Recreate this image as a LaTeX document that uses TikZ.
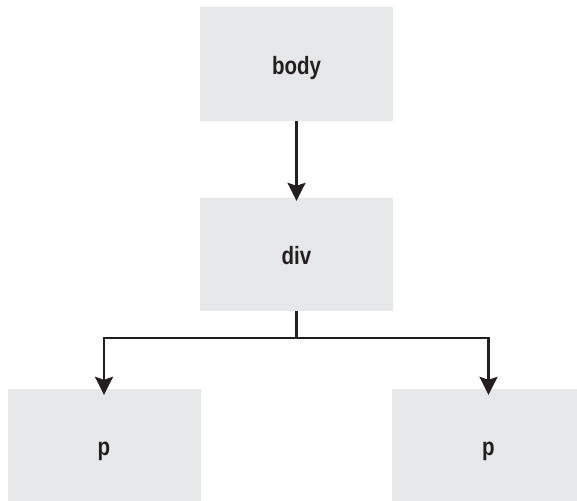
\documentclass[tikz,border=0pt]{standalone}
\usepackage{fontspec}
\setmainfont[FakeStretch=0.82]{Liberation Sans}
\usetikzlibrary{arrows.meta}
\definecolor{boxgray}{HTML}{E6E7E8}
\definecolor{ink}{HTML}{231F20}
\begin{document}
\begin{tikzpicture}[x=1pt,y=-1pt,
  elbox/.style={fill=boxgray,draw=none,minimum width=193pt,minimum height=113pt,inner sep=0pt,
    text height=20.4pt,text depth=0pt,
    font=\fontsize{25}{27}\selectfont\bfseries,text=ink},
  link/.style={draw=ink,line width=2.4pt,-{Stealth[length=18pt,width=18pt,inset=3pt]}}]
\useasboundingbox (0,0) rectangle (577,500);
\clip (0,0) rectangle (577,500);
\node[elbox] (body) at (296.5,64) {body};
\node[elbox] (div) at (296.5,254.5) {div};
\node[elbox,minimum height=112pt] (p1) at (104,445) {p};
\node[elbox,minimum height=112pt] (p2) at (488.5,445) {p};
\coordinate (j) at (296.5,338);
\draw[link] (body.south) -- ([yshift=-3pt]div.north);
\draw[draw=ink,line width=2.4pt] (div.south) -- (j);
\draw[link] (j) -| ([yshift=-6pt]p1.north);
\draw[link] (j) -| ([yshift=-6pt]p2.north);
\end{tikzpicture}
\end{document}
